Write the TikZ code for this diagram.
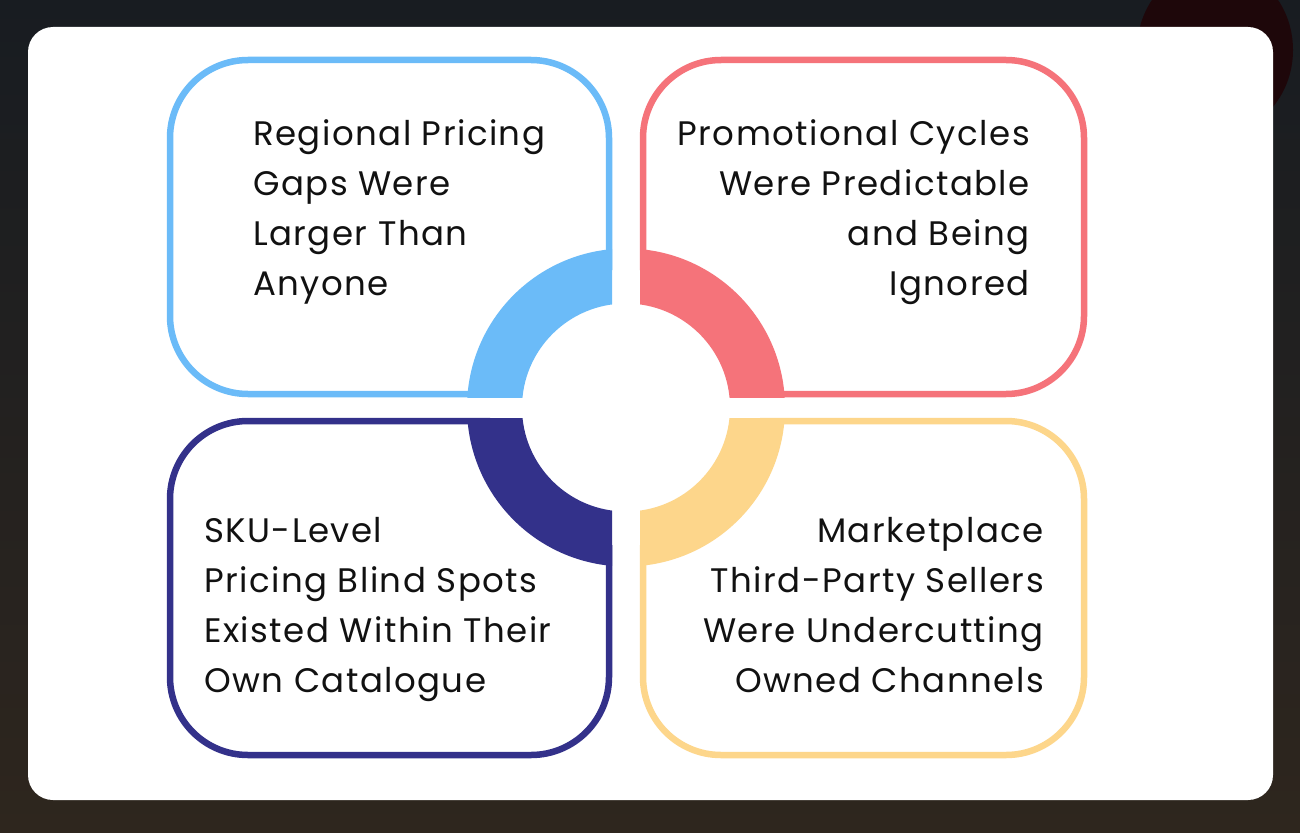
\documentclass[tikz,border=0pt]{standalone}
\usepackage{fontspec}
\setmainfont{Poppins}[LetterSpace=4.3]
\definecolor{bgtop}{HTML}{181C21}
\definecolor{bgbot}{HTML}{2E261E}
\definecolor{blobred}{HTML}{1E070A}
\definecolor{cblue}{HTML}{6BBBF8}
\definecolor{cred}{HTML}{F5737A}
\definecolor{cnavy}{HTML}{33318A}
\definecolor{cyellow}{HTML}{FDD68B}
\definecolor{txtc}{HTML}{111111}
\tikzset{
  boxline/.style={line width=6.5pt, rounded corners=78pt},
  txt/.style={inner sep=0pt, text=txtc, font=\fontsize{34pt}{50pt}\selectfont},
}
\begin{document}
\begin{tikzpicture}[x=1pt,y=-1pt]
\useasboundingbox (0,0) rectangle (1300,832);
% background
\shade[top color=bgtop, middle color=bgtop, bottom color=bgbot] (0,0) rectangle (1300,832);
\begin{scope}
\clip (0,0) rectangle (1300,832);
\fill[blobred] (1215,50) ellipse[x radius=78pt, y radius=85pt];
\end{scope}
% white card
\fill[white, rounded corners=25pt] (28,27) rectangle (1273,800);
% box outlines
\draw[boxline, cblue] (609,270) -- (609,60) -- (170,60) -- (170,394) -- (490,394);
\draw[boxline, cred] (643,270) -- (643,60) -- (1084,60) -- (1084,394) -- (760,394);
\draw[boxline, cnavy] (490,421) -- (170,421) -- (170,755) -- (609,755) -- (609,545);
\draw[boxline, cyellow] (760,421) -- (1084,421) -- (1084,755) -- (643,755) -- (643,545);
% ring quadrants
\begin{scope}
\clip (0,0) rectangle (612,397.5);
\fill[cblue, even odd rule] (626,407.5) circle[radius=159pt] circle[radius=104pt];
\end{scope}
\begin{scope}
\clip (640,0) rectangle (1300,397.5);
\fill[cred, even odd rule] (626,407.5) circle[radius=159pt] circle[radius=104pt];
\end{scope}
\begin{scope}
\clip (0,418) rectangle (612,832);
\fill[cnavy, even odd rule] (626,407.5) circle[radius=159pt] circle[radius=104pt];
\end{scope}
\begin{scope}
\clip (640,418) rectangle (1300,832);
\fill[cyellow, even odd rule] (626,407.5) circle[radius=159pt] circle[radius=104pt];
\end{scope}
% texts (base anchor = baseline of last line)
\node[txt, anchor=base west, align=left] (tl) at (253,295) {Regional Pricing\\Gaps Were\\Larger Than\\Anyone};
\node[txt, anchor=base east, align=right] (tr) at (1030,295) {Promotional Cycles\\Were Predictable\\and Being\\Ignored};
\node[txt, anchor=base west, align=left] (bl) at (204,692) {SKU-Level\\Pricing Blind Spots\\Existed Within Their\\Own Catalogue};
\node[txt, anchor=base east, align=right] (br) at (1044,692) {Marketplace\\Third-Party Sellers\\Were Undercutting\\Owned Channels};
\end{tikzpicture}
\end{document}
